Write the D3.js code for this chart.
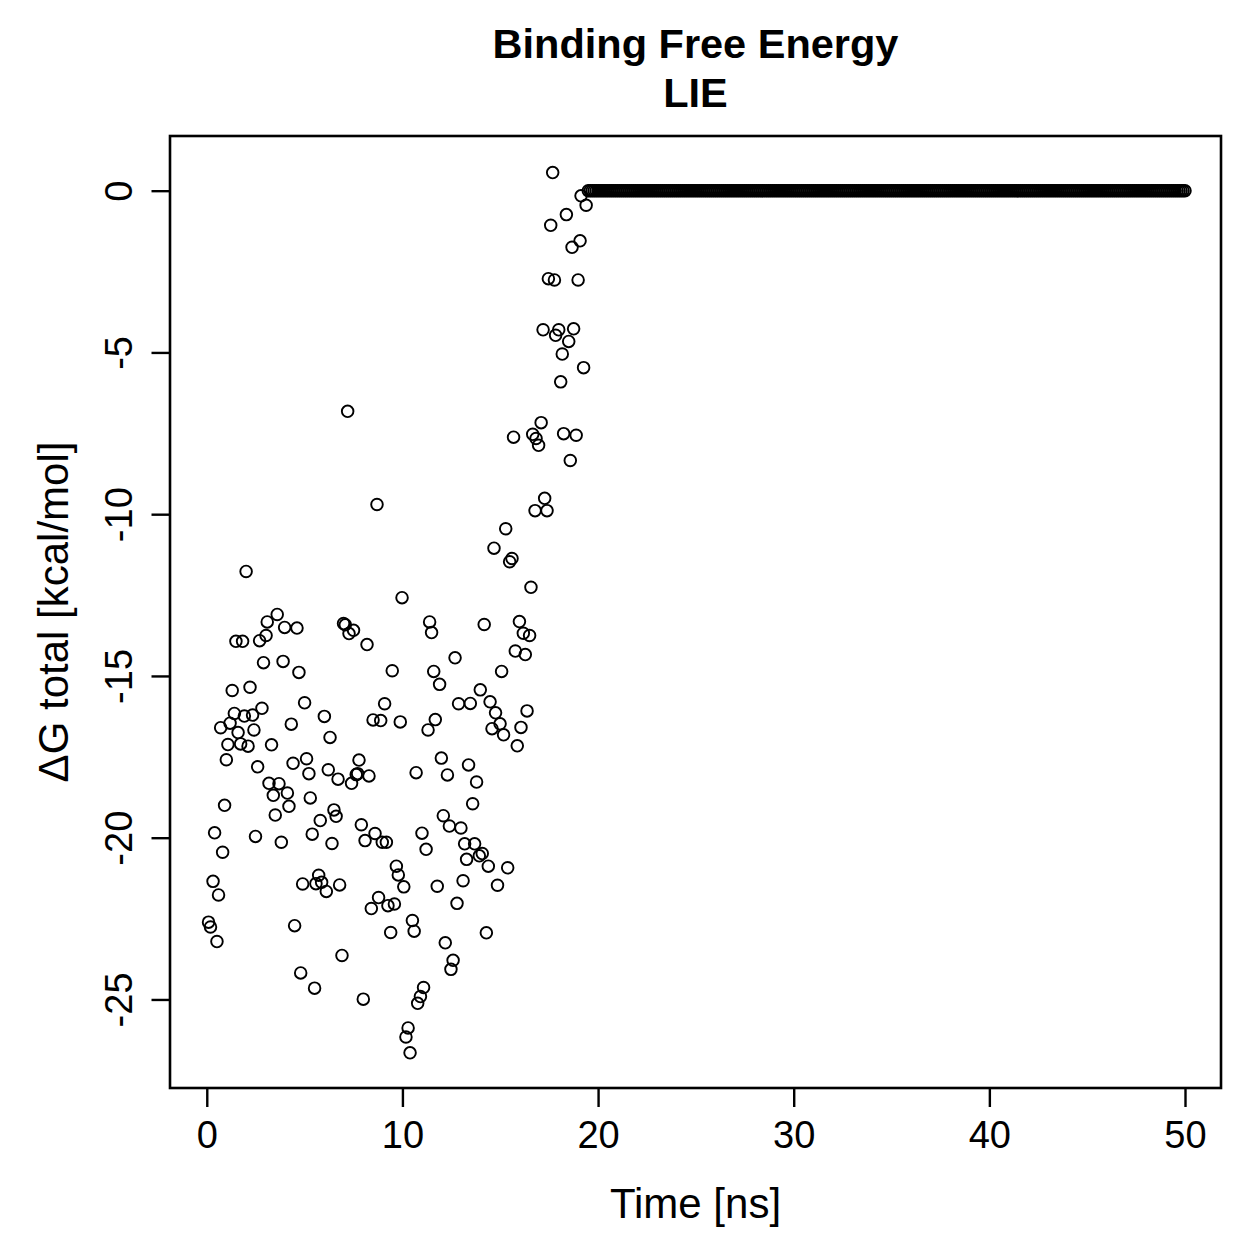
<!DOCTYPE html>
<html>
<head>
<meta charset="utf-8">
<script src="https://cdn.jsdelivr.net/npm/d3@7"></script>
<style>
  body { margin: 0; background: #fff; }
  text { font-family: "Liberation Sans", Arial, Helvetica, sans-serif; fill: #000; }
</style>
</head>
<body>
<svg id="chart"></svg>
<script>
// title / labels
const titleLines = ["Binding Free Energy", "LIE"];
const xLabel = "Time [ns]";
const yLabel = "\u0394G total [kcal/mol]";

const xTicks = [0, 10, 20, 30, 40, 50];
const yTicks = [0, -5, -10, -15, -20, -25];

// scattered part of the run, time in ns
const scatterTime = [
  0.09, 0.19, 0.32, 0.40, 0.52, 0.60, 0.71, 0.81, 0.91, 1.00,
  1.08, 1.19, 1.30, 1.41, 1.49, 1.60, 1.73, 1.83, 1.92, 2.01,
  2.11, 2.21, 2.34, 2.41, 2.49, 2.60, 2.70, 2.82, 2.90, 3.03,
  3.09, 3.18, 3.31, 3.40, 3.50, 3.60, 3.69, 3.81, 3.90, 3.98,
  4.12, 4.20, 4.32, 4.41, 4.49, 4.61, 4.71, 4.80, 4.90, 5.00,
  5.10, 5.22, 5.29, 5.39, 5.51, 5.58, 5.72, 5.80, 5.87, 6.01,
  6.11, 6.21, 6.30, 6.40, 6.50, 6.61, 6.71, 6.79, 6.91, 6.99,
  7.08, 7.20, 7.27, 7.40, 7.50, 7.64, 7.71, 7.78, 7.90, 8.00,
  8.09, 8.19, 8.29, 8.41, 8.50, 8.60, 8.70, 8.78, 8.89, 8.97,
  9.09, 9.18, 9.26, 9.40, 9.48, 9.59, 9.69, 9.79, 9.89, 9.98,
  10.07, 10.18, 10.29, 10.39, 10.51, 10.60, 10.70, 10.78, 10.92, 11.00,
  11.08, 11.21, 11.31, 11.39, 11.49, 11.60, 11.68, 11.78, 11.90, 11.99,
  12.09, 12.19, 12.30, 12.40, 12.48, 12.59, 12.69, 12.79, 12.87, 12.99,
  13.10, 13.18, 13.28, 13.38, 13.47, 13.59, 13.69, 13.79, 13.93, 13.98,
  14.08, 14.18, 14.29, 14.39, 14.48, 14.58, 14.68, 14.76, 14.86, 14.99,
  15.07, 15.17, 15.28, 15.38, 15.48, 15.60, 15.68, 15.77, 15.87, 15.98,
  16.06, 16.18, 16.28, 16.37, 16.50, 16.57, 16.66, 16.78, 16.83, 16.96,
  17.09, 17.19, 17.27, 17.39, 17.46, 17.58, 17.68, 17.77, 17.83, 17.99,
  18.09, 18.17, 18.24, 18.38, 18.50, 18.58, 18.67, 18.75, 18.88, 18.98,
  19.08, 19.13, 19.26, 19.39
];
const scatterDG = [
  -22.61, -22.76, -21.35, -19.85, -23.21, -21.77, -16.60, -20.45, -19.00, -17.59,
  -17.12, -16.46, -15.45, -16.16, -13.93, -16.75, -17.10, -13.93, -16.24, -11.77,
  -17.17, -15.35, -16.21, -16.67, -19.96, -17.81, -13.91, -16.00, -14.59, -13.75,
  -13.33, -18.32, -17.13, -18.69, -19.30, -13.10, -18.33, -20.14, -14.55, -13.50,
  -18.62, -19.03, -16.49, -17.70, -22.72, -13.52, -14.89, -24.18, -21.43, -15.83,
  -17.56, -18.02, -18.77, -19.89, -24.65, -21.42, -21.16, -19.47, -21.38, -16.25,
  -21.66, -17.90, -16.90, -20.18, -19.14, -19.34, -18.19, -21.46, -23.64, -13.38,
  -13.42, -6.82, -13.69, -18.32, -13.59, -18.05, -18.02, -17.60, -19.60, -24.99,
  -20.09, -14.03, -18.09, -22.19, -16.36, -19.87, -9.70, -21.85, -16.38, -20.14,
  -15.86, -20.14, -22.10, -22.93, -14.84, -22.05, -20.88, -21.15, -16.42, -12.58,
  -21.52, -26.16, -25.88, -26.65, -22.56, -22.89, -17.99, -25.12, -24.91, -19.86,
  -24.63, -20.36, -16.67, -13.33, -13.66, -14.86, -16.35, -21.50, -15.26, -17.54,
  -19.32, -23.25, -18.06, -19.64, -24.07, -23.79, -14.44, -22.03, -15.86, -19.70,
  -21.33, -20.19, -20.67, -17.75, -15.85, -18.95, -20.19, -18.28, -20.56, -15.43,
  -20.49, -13.41, -22.94, -20.88, -15.80, -16.63, -11.05, -16.14, -21.47, -16.48,
  -14.86, -16.82, -10.45, -20.93, -11.47, -11.37, -7.62, -14.23, -17.16, -13.32,
  -16.59, -13.68, -14.34, -16.08, -13.75, -12.26, -7.53, -9.89, -7.66, -7.87,
  -7.17, -4.30, -9.51, -9.89, -2.72, -1.07, 0.56, -2.76, -4.47, -4.30,
  -5.91, -5.05, -7.51, -0.74, -4.66, -8.34, -1.75, -4.27, -7.56, -2.76,
  -1.55, -0.16, -5.47, -0.45
];

// from 19.5 ns on every sample (0.1 ns apart) sits at 0
const tailStart = 19.5;
const tailStep = 0.1;
const tailDG = [
  0,0,0,0,0,0,0,0,0,0, 0,0,0,0,0,0,0,0,0,0, 0,0,0,0,0,0,0,0,0,0,
  0,0,0,0,0,0,0,0,0,0, 0,0,0,0,0,0,0,0,0,0, 0,0,0,0,0,0,0,0,0,0,
  0,0,0,0,0,0,0,0,0,0, 0,0,0,0,0,0,0,0,0,0, 0,0,0,0,0,0,0,0,0,0,
  0,0,0,0,0,0,0,0,0,0, 0,0,0,0,0,0,0,0,0,0, 0,0,0,0,0,0,0,0,0,0,
  0,0,0,0,0,0,0,0,0,0, 0,0,0,0,0,0,0,0,0,0, 0,0,0,0,0,0,0,0,0,0,
  0,0,0,0,0,0,0,0,0,0, 0,0,0,0,0,0,0,0,0,0, 0,0,0,0,0,0,0,0,0,0,
  0,0,0,0,0,0,0,0,0,0, 0,0,0,0,0,0,0,0,0,0, 0,0,0,0,0,0,0,0,0,0,
  0,0,0,0,0,0,0,0,0,0, 0,0,0,0,0,0,0,0,0,0, 0,0,0,0,0,0,0,0,0,0,
  0,0,0,0,0,0,0,0,0,0, 0,0,0,0,0,0,0,0,0,0, 0,0,0,0,0,0,0,0,0,0,
  0,0,0,0,0,0,0,0,0,0, 0,0,0,0,0,0,0,0,0,0, 0,0,0,0,0,0,0,0,0,0,
  0,0,0,0,0,0
];

const width = 1259, height = 1259;
const box = { left: 170, right: 1221, top: 136, bottom: 1088 };
const tickFont = 38;
const labelFont = 42;
const titleFont = 41.5;

const svg = d3.select("#chart")
    .attr("width", width)
    .attr("height", height);

const points = scatterTime.map((t, i) => ({ t: t, v: scatterDG[i] }))
    .concat(tailDG.map((v, i) => ({ t: tailStart + i * tailStep, v: v })));

// R style 4% padding around the data range
const xScale = d3.scaleLinear().domain([-1.88, 51.84]).range([box.left, box.right]);
const yScale = d3.scaleLinear().domain([-27.737, 1.69]).range([box.bottom, box.top]);

svg.append("g")
    .selectAll("circle")
    .data(points)
    .join("circle")
    .attr("cx", d => xScale(d.t))
    .attr("cy", d => yScale(d.v))
    .attr("r", 5.8)
    .attr("fill", "none")
    .attr("stroke", "#000")
    .attr("stroke-width", 1.9);

// axes
const xAxis = svg.append("g")
    .attr("transform", `translate(0, ${box.bottom})`)
    .call(d3.axisBottom(xScale).tickValues(xTicks).tickFormat(d => String(d))
        .tickSize(19).tickPadding(14));

const yAxis = svg.append("g")
    .attr("transform", `translate(${box.left}, 0)`)
    .call(d3.axisLeft(yScale).tickValues(yTicks).tickFormat(d => String(d))
        .tickSize(18.5));

[xAxis, yAxis].forEach(ax => {
    ax.select(".domain").remove();
    ax.selectAll(".tick line").attr("stroke", "#000").attr("stroke-width", 2.4);
    ax.selectAll("text").attr("font-size", tickFont)
      .style("font-family", "'Liberation Sans', Arial, sans-serif");
});

yAxis.selectAll(".tick text")
    .attr("x", 0)
    .attr("dy", 0)
    .attr("text-anchor", "middle")
    .attr("transform", "translate(-38, 0) rotate(-90)");

// plot frame
svg.append("rect")
    .attr("x", box.left)
    .attr("y", box.top)
    .attr("width", box.right - box.left)
    .attr("height", box.bottom - box.top)
    .attr("fill", "none")
    .attr("stroke", "#000")
    .attr("stroke-width", 2.6);

// titles
const midX = (box.left + box.right) / 2;
const midY = (box.top + box.bottom) / 2;

svg.append("g")
    .selectAll("text")
    .data(titleLines)
    .join("text")
    .attr("x", midX)
    .attr("y", (d, i) => 58 + i * 49)
    .attr("text-anchor", "middle")
    .attr("font-size", titleFont)
    .attr("font-weight", "bold")
    .text(d => d);

svg.append("text")
    .attr("x", midX)
    .attr("y", 1218)
    .attr("text-anchor", "middle")
    .attr("font-size", labelFont)
    .text(xLabel);

svg.append("text")
    .attr("transform", `translate(68, ${midY}) rotate(-90)`)
    .attr("text-anchor", "middle")
    .attr("font-size", labelFont)
    .text(yLabel);
</script>
</body>
</html>
